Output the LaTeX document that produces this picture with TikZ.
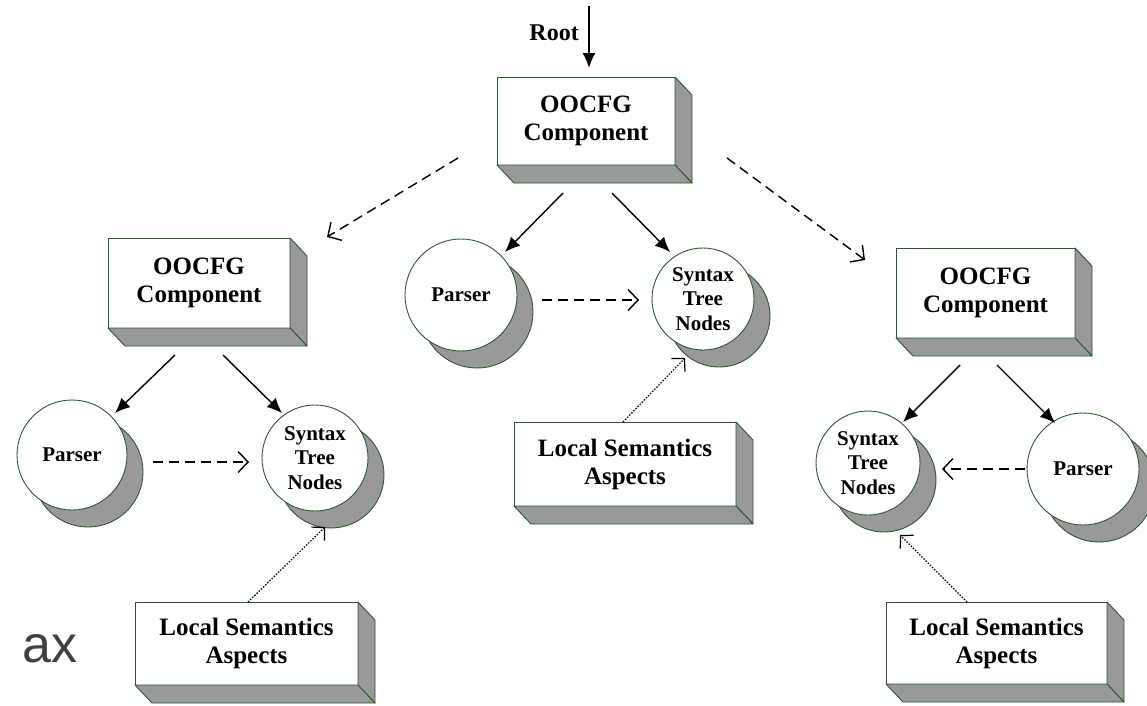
\documentclass[tikz,border=0pt]{standalone}
\usepackage{fontspec}
\setmainfont{Liberation Serif}
\newfontfamily\labelsans{Liberation Sans}
\usetikzlibrary{arrows.meta}

\definecolor{rim}{RGB}{45,85,50}
\definecolor{shade}{RGB}{153,153,153}
\definecolor{ghost}{RGB}{64,64,64}

\tikzset{
  slab/.style={draw=rim, line width=0.9pt, fill=white, rectangle, inner sep=0pt,
    outer sep=0pt, align=center, font=\bfseries\fontsize{25}{28}\selectfont},
  slabside/.style={draw=rim, line width=0.9pt, fill=shade, line join=round},
  disc/.style={draw=rim, line width=0.9pt, fill=white, circle, inner sep=0pt,
    outer sep=0pt, align=center, font=\bfseries\fontsize{21}{24.5}\selectfont},
  discshadow/.style={draw=rim, line width=0.9pt, fill=shade, circle, inner sep=0pt},
  owns/.style={line width=1.4pt, -{Latex[length=15pt,width=13pt]}},
  calls/.style={line width=1.4pt, dash pattern=on 10pt off 6pt,
    -{Straight Barb[length=10pt,width=21pt]}},
  refines/.style={line width=1.2pt, dash pattern=on 1.5pt off 1.5pt,
    -{Straight Barb[length=9pt,width=19pt]}},
}

% raised box: name, centre x, centre y, width, height, text
\newcommand\slabbox[6]{%
  \node[slab, minimum width=#4pt, minimum height=#5pt] (#1) at (#2,#3) {#6};
  \path[slabside] (#1.north east) -- ++(17,18) -- ++(0,#5) -- (#1.south east) -- cycle;
  \path[slabside] (#1.south west) -- ++(17,18) -- ++(#4,0) -- (#1.south east) -- cycle;
}
% disc with drop shadow: name, centre x, centre y, diameter, text
\newcommand\discnode[5]{%
  \node[discshadow, minimum size=#4pt] (#1-shade) at (#2+16,#3+17) {};
  \node[disc, minimum size=#4pt] (#1) at (#2,#3) {#5};
}

\begin{document}
\begin{tikzpicture}[x=1pt, y=-1pt]
\useasboundingbox (0,0) rectangle (1147,705);

% components
\slabbox{top}{586}{121}{178}{88}{OOCFG\\Component}
\slabbox{left}{199}{283}{182}{90}{OOCFG\\Component}
\slabbox{right}{985.5}{293}{179}{90}{OOCFG\\Component}

% semantics aspects
\slabbox{cLSA}{625}{464}{222}{84}{Local Semantics\\Aspects}
\slabbox{lLSA}{246.5}{643.5}{223}{83}{Local Semantics\\Aspects}
\slabbox{rLSA}{996.5}{643}{221}{82}{Local Semantics\\Aspects}

% parsers and syntax tree nodes
\discnode{cP}{461}{295}{112}{Parser}
\discnode{cS}{703}{299}{102}{Syntax\\Tree\\Nodes}
\discnode{lP}{72}{455}{110}{Parser}
\discnode{lS}{315}{458}{106}{Syntax\\Tree\\Nodes}
\discnode{rS}{868}{463}{104}{Syntax\\Tree\\Nodes}
\discnode{rP}{1083}{469}{112}{Parser}

% root entry
\coordinate (rootin) at (589,6);
\node[font=\bfseries\fontsize{24}{28}\selectfont, anchor=base east, inner sep=0pt]
  (rootlbl) at (579,40) {Root};
\draw[owns, shorten >=9pt] (rootin) -- (rootin |- top.north);

% containment
\draw[owns] ([shift={(-23,28)}]top.south) -- ([shift={(44,-43)}]cP.center);
\draw[owns] ([shift={(26,28)}]top.south) -- ([shift={(-33,-47)}]cS.center);
\draw[owns] ([shift={(-24,27)}]left.south) -- ([shift={(43,-42)}]lP.center);
\draw[owns] ([shift={(24,27)}]left.south) -- ([shift={(-33,-45)}]lS.center);
\draw[owns] ([shift={(-25.5,27)}]right.south) -- ([shift={(35,-41)}]rS.center);
\draw[owns] ([shift={(11.5,27)}]right.south) -- ([shift={(-28,-46)}]rP.center);

% sub-components and parser output
\draw[calls] ([shift={(-39,37)}]top.west) -- ([shift={(37,-1)}]left.north east);
\draw[calls] ([shift={(52,37)}]top.east) -- ([shift={(-31,12)}]right.north west);
\draw[calls] ([shift={(25,5)}]cP.east) -- ([shift={(-13,1)}]cS.west);
\draw[calls] ([shift={(26,7)}]lP.east) -- ([shift={(-13,4)}]lS.west);
\draw[calls] ([shift={(-2,0)}]rP.west) -- ([shift={(22,6)}]rS.east);

% semantics attached to tree nodes
\draw[refines] ([shift={(-2,0)}]cLSA.north) -- ([shift={(-18,59)}]cS.center);
\draw[refines] ([shift={(1.5,0)}]lLSA.north) -- ([shift={(10,69)}]lS.center);
\draw[refines] ([shift={(-29.5,0)}]rLSA.north) -- ([shift={(32,72)}]rS.center);

% stray slide text
\node[font=\labelsans\fontsize{52}{52}\selectfont, text=ghost, anchor=base west,
  inner sep=0pt] (ax) at (22,662) {ax};
\end{tikzpicture}
\end{document}
